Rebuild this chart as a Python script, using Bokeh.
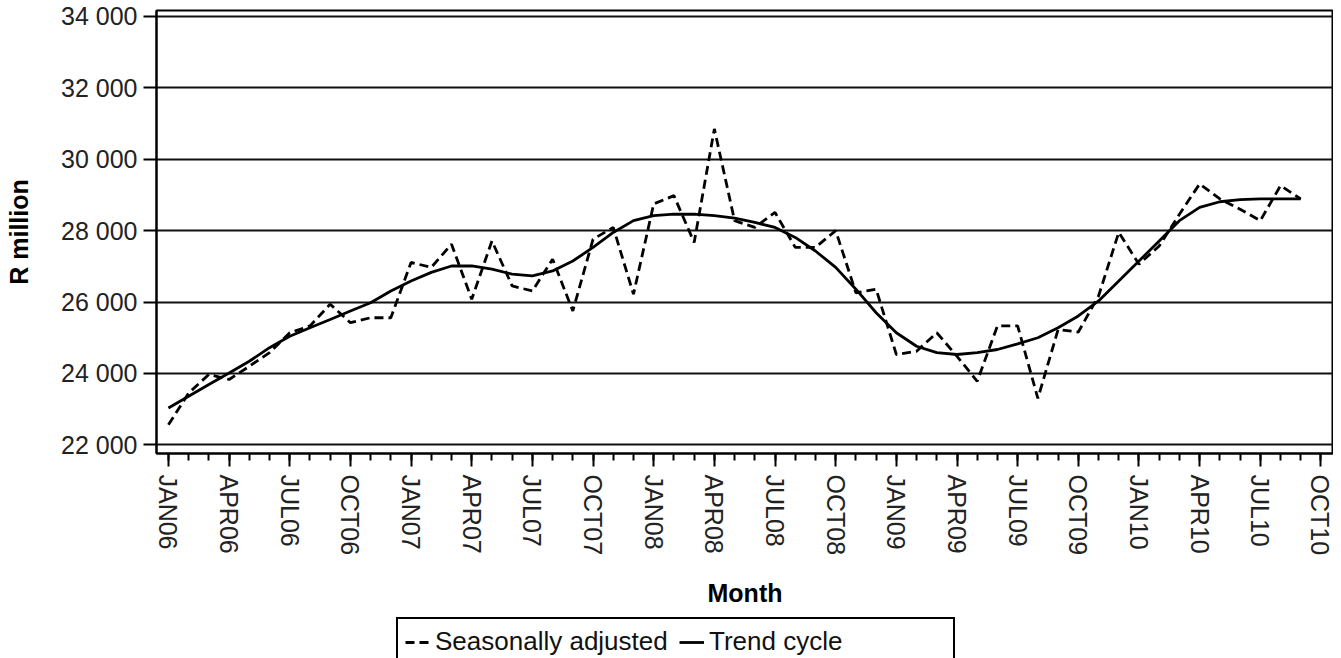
from bokeh.plotting import figure
from bokeh.layouts import column
from bokeh.models import Range1d, FixedTicker, Legend, LegendItem
from bokeh.embed import file_html
from bokeh.resources import INLINE

# ---- data ----
month_abbr = ["JAN", "FEB", "MAR", "APR", "MAY", "JUN",
              "JUL", "AUG", "SEP", "OCT", "NOV", "DEC"]
years = ["06", "07", "08", "09", "10"]
months = [m + y for y in years for m in month_abbr][:57]   # JAN06 .. SEP10

seasonally_adjusted = [
    22560, 23450, 23970, 23830, 24200, 24580, 25140, 25330, 25940, 25420, 25560, 25560,
    27110, 26970, 27620, 26080, 27710, 26450, 26310, 27200, 25750, 27760, 28090, 26220,
    28750, 28980, 27670, 30850, 28280, 28090, 28510, 27530, 27530, 28000, 26260, 26360,
    24530, 24620, 25140, 24480, 23780, 25330, 25330, 23300, 25230, 25160, 26170, 27950,
    27060, 27570, 28460, 29310, 28890, 28600, 28280, 29260, 28890,
]
trend_cycle = [
    23030, 23360, 23690, 24010, 24340, 24720, 25040, 25280, 25510, 25750, 25980, 26310,
    26590, 26830, 27010, 27010, 26920, 26780, 26730, 26870, 27150, 27530, 27950, 28280,
    28420, 28460, 28460, 28420, 28350, 28230, 28090, 27810, 27430, 26970, 26360, 25700,
    25140, 24760, 24580, 24530, 24580, 24670, 24830, 25000, 25280, 25610, 26030, 26590,
    27150, 27710, 28280, 28650, 28810, 28870, 28890, 28890, 28890,
]

x_tick_labels = ["JAN06", "APR06", "JUL06", "OCT06", "JAN07", "APR07", "JUL07", "OCT07",
                 "JAN08", "APR08", "JUL08", "OCT08", "JAN09", "APR09", "JUL09", "OCT09",
                 "JAN10", "APR10", "JUL10", "OCT10"]
y_ticks = [22000, 24000, 26000, 28000, 30000, 32000, 34000]
y_tick_labels = ["22 000", "24 000", "26 000", "28 000", "30 000", "32 000", "34 000"]
series_names = ["Seasonally adjusted", "Trend cycle"]

x_idx = list(range(len(months)))
x_major = [3 * i for i in range(len(x_tick_labels))]
x_minor = list(range(x_major[-1] + 1))

FONT = "Liberation Sans"
DASH = "9 5"

p = figure(width=1333, height=615, output_backend="svg", toolbar_location=None,
           x_range=Range1d(-0.59, 57.62), y_range=Range1d(21756, 34168),
           min_border_left=156, min_border_right=0, min_border_top=10,
           min_border_bottom=162)

p.background_fill_color = "white"
p.border_fill_color = "white"
p.outline_line_color = "black"
p.outline_line_width = 2

# grid
p.xgrid.grid_line_color = None
p.ygrid.grid_line_color = "#111111"
p.ygrid.grid_line_width = 2
p.ygrid.ticker = FixedTicker(ticks=y_ticks)

# y axis
p.yaxis.ticker = FixedTicker(ticks=y_ticks)
p.yaxis.major_label_overrides = dict(zip(y_ticks, y_tick_labels))
p.yaxis.minor_tick_line_color = None
p.yaxis.major_tick_in = 0
p.yaxis.major_tick_out = 13
p.yaxis.major_tick_line_width = 2
p.yaxis.axis_line_width = 2
p.yaxis.major_label_standoff = 6
p.yaxis.major_label_text_font = FONT
p.yaxis.major_label_text_font_size = "25px"
p.yaxis.major_label_text_color = "#222222"
p.yaxis.axis_label = "R million"
p.yaxis.axis_label_text_font = FONT
p.yaxis.axis_label_text_font_style = "bold"
p.yaxis.axis_label_text_font_size = "25px"
p.yaxis.axis_label_text_color = "black"
p.yaxis.axis_label_standoff = 25

# x axis
p.xaxis.ticker = FixedTicker(ticks=x_major, minor_ticks=x_minor)
p.xaxis.major_label_overrides = dict(zip(x_major, x_tick_labels))
p.xaxis.major_label_orientation = "vertical"
p.xaxis.major_tick_in = 0
p.xaxis.major_tick_out = 13
p.xaxis.minor_tick_in = 0
p.xaxis.minor_tick_out = 7
p.xaxis.major_tick_line_width = 2
p.xaxis.minor_tick_line_width = 2
p.xaxis.axis_line_width = 2
p.xaxis.major_label_standoff = 8
p.xaxis.major_label_text_font = FONT
p.xaxis.major_label_text_font_size = "25px"
p.xaxis.major_label_text_color = "#222222"
p.xaxis.axis_label = "Month"
p.xaxis.axis_label_text_font = FONT
p.xaxis.axis_label_text_font_style = "bold"
p.xaxis.axis_label_text_font_size = "25px"
p.xaxis.axis_label_text_color = "black"
p.xaxis.axis_label_standoff = 21

# series
p.line(x_idx, seasonally_adjusted, line_color="black", line_width=2.8, line_dash=DASH)
p.line(x_idx, trend_cycle, line_color="black", line_width=2.8)

# ---- legend strip (separate small figure holding only the legend) ----
lg = figure(width=1333, height=43, output_backend="svg", toolbar_location=None,
            x_range=Range1d(0, 1), y_range=Range1d(0, 1),
            x_axis_location=None, y_axis_location=None,
            min_border_left=0, min_border_right=0, min_border_top=0,
            min_border_bottom=0)
lg.outline_line_color = None
lg.grid.grid_line_color = None
lg.background_fill_color = "white"
lg.border_fill_color = "white"
# key renderers: same styles, data kept outside the strip's visible range
k_sa = lg.line(x_idx[:2], seasonally_adjusted[:2], line_color="black", line_width=2.8,
               line_dash=DASH)
k_tc = lg.line(x_idx[:2], trend_cycle[:2], line_color="black", line_width=2.8)

legend = Legend(items=[LegendItem(label=series_names[0], renderers=[k_sa]),
                       LegendItem(label=series_names[1], renderers=[k_tc])],
                orientation="horizontal", location=(240, -8))
legend.border_line_color = "black"
legend.border_line_width = 2
legend.border_line_alpha = 1
legend.background_fill_color = "white"
legend.background_fill_alpha = 1
legend.padding = 7
legend.spacing = 7
legend.margin = 0
legend.glyph_width = 25
legend.label_standoff = 5
legend.label_width = 237
legend.label_text_font = FONT
legend.label_text_font_size = "26px"
legend.label_text_color = "#111111"
lg.add_layout(legend)

layout = column(p, lg, spacing=0)
open("out.html", "w").write(file_html(layout, INLINE))
